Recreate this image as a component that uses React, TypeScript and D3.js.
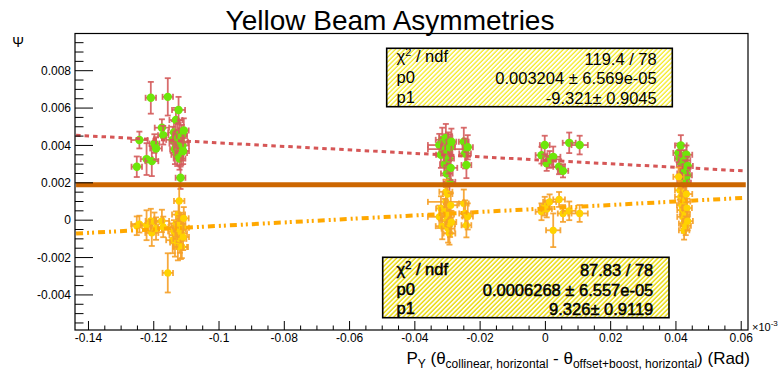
import React from 'react';
import * as d3 from 'd3';

const W = 778, H = 373;
const FL = 75, FR = 748, FT = 33.5, FB = 330;

const xTicks = [-0.14, -0.12, -0.1, -0.08, -0.06, -0.04, -0.02, 0, 0.02, 0.04, 0.06];
const xTickLabels = ["-0.14", "-0.12", "-0.1", "-0.08", "-0.06", "-0.04", "-0.02", "0", "0.02", "0.04", "0.06"];
const yTicks = [-0.004, -0.002, 0, 0.002, 0.004, 0.006, 0.008];
const yTickLabels = ["-0.004", "-0.002", "0", "0.002", "0.004", "0.006", "0.008"];

// shared x positions (axis units x10^-3 rad) and x errors
const xs = [
  -0.1252, -0.1244, -0.1222, -0.1209, -0.1206, -0.1198, -0.1193, -0.1175, -0.1171, -0.1157,
  -0.1142, -0.1138, -0.1135, -0.1132, -0.1130, -0.1128, -0.1126, -0.1124, -0.1122, -0.1121,
  -0.1120, -0.1118, -0.1117, -0.1116, -0.1114, -0.1112, -0.1110, -0.1108,
  -0.0325, -0.0320, -0.0316, -0.0305, -0.0308, -0.0305, -0.0302, -0.0300, -0.0298, -0.0296,
  -0.0294, -0.0292, -0.0290, -0.0288, -0.0250, -0.0246, -0.0242, -0.0238,
  -0.0012, -0.0002, 0.0004, 0.0013, 0.0024, 0.0042, 0.0054, 0.0073, 0.0105,
  0.0408, 0.0412, 0.0415, 0.0418, 0.0420, 0.0422, 0.0424, 0.0425, 0.0426, 0.0428, 0.0430, 0.0432, 0.0434, 0.0436,
];
const exs = [
  0.0016, 0.0025, 0.0018, 0.0016, 0.0020, 0.0015, 0.0018, 0.0022, 0.0016, 0.0016,
  0.0020, 0.0018, 0.0015, 0.0020, 0.0022, 0.0018, 0.0015, 0.0020, 0.0016, 0.0018,
  0.0020, 0.0015, 0.0022, 0.0018, 0.0016, 0.0020, 0.0018, 0.0015,
  0.0035, 0.0015, 0.0020, 0.0055, 0.0015, 0.0020, 0.0018, 0.0015, 0.0020, 0.0016,
  0.0018, 0.0015, 0.0020, 0.0015, 0.0015, 0.0018, 0.0015, 0.0016,
  0.0018, 0.0015, 0.0016, 0.0020, 0.0022, 0.0018, 0.0016, 0.0020, 0.0025,
  0.0016, 0.0015, 0.0018, 0.0015, 0.0016, 0.0018, 0.0015, 0.0016, 0.0018, 0.0015, 0.0016, 0.0018, 0.0015, 0.0016,
];
// upper series (green markers, red errors)
const upperY = [
  0.00286, 0.00429, 0.00327, 0.00655, 0.00316, 0.00410, 0.00384, 0.00495, 0.00455, 0.00660,
  0.00430, 0.00470, 0.00380, 0.00536, 0.00410, 0.00350, 0.00440, 0.00590, 0.00390, 0.00330,
  0.00460, 0.00227, 0.00420, 0.00360, 0.00450, 0.00400, 0.00370, 0.00480,
  0.00402, 0.00350, 0.00430, 0.00380, 0.00300, 0.00440, 0.00250, 0.00360, 0.00410, 0.00330,
  0.00205, 0.00390, 0.00280, 0.00420, 0.00420, 0.00357, 0.00295, 0.00390,
  0.00348, 0.00402, 0.00304, 0.00325, 0.00339, 0.00286, 0.00264, 0.00414, 0.00402,
  0.00360, 0.00330, 0.00400, 0.00300, 0.00250, 0.00214, 0.00280, 0.00230, 0.00320, 0.00270, 0.00200, 0.00350, 0.00240, 0.00290,
];
const upperEY = [
  0.00055, 0.00045, 0.00085, 0.00085, 0.00080, 0.00050, 0.00060, 0.00045, 0.00050, 0.00100,
  0.00070, 0.00060, 0.00080, 0.00065, 0.00070, 0.00060, 0.00075, 0.00070, 0.00065, 0.00060,
  0.00075, 0.00060, 0.00070, 0.00065, 0.00060, 0.00080, 0.00070, 0.00065,
  0.00060, 0.00070, 0.00065, 0.00080, 0.00060, 0.00075, 0.00070, 0.00065, 0.00060, 0.00080,
  0.00060, 0.00070, 0.00065, 0.00070, 0.00075, 0.00080, 0.00070, 0.00065,
  0.00045, 0.00050, 0.00040, 0.00045, 0.00055, 0.00040, 0.00035, 0.00055, 0.00050,
  0.00050, 0.00045, 0.00055, 0.00050, 0.00045, 0.00040, 0.00050, 0.00045, 0.00055, 0.00050, 0.00045, 0.00050, 0.00045, 0.00050,
];
// lower series (yellow markers, orange errors)
const lowerY = [
  -0.00030, -0.00021, -0.00027, -0.00004, -0.00068, -0.00009, -0.00045, -0.00004, -0.00036, -0.00282,
  -0.00107, -0.00060, -0.00120, -0.00018, -0.00080, -0.00030, -0.00140, 0.00030, 0.00103, -0.00050,
  -0.00100, -0.00020, -0.00143, -0.00070, -0.00143, -0.00040, -0.00090, 0.00010,
  0.00018, 0.00063, -0.00032, 0.00098, 0.00054, 0.00152, 0.00000, 0.00140, -0.00045, 0.00030,
  -0.00071, -0.00020, 0.00080, -0.00010, 0.00089, 0.00036, -0.00027, 0.00020,
  0.00045, 0.00075, 0.00060, 0.00098, -0.00054, 0.00111, 0.00036, 0.00050, 0.00036,
  0.00232, 0.00160, 0.00125, 0.00080, 0.00054, 0.00018, -0.00018, -0.00054, 0.00100, 0.00030, -0.00030, 0.00140, 0.00065, -0.00005,
];
const lowerEY = [
  0.00050, 0.00045, 0.00080, 0.00065, 0.00070, 0.00050, 0.00060, 0.00060, 0.00055, 0.00105,
  0.00070, 0.00060, 0.00075, 0.00065, 0.00070, 0.00060, 0.00075, 0.00070, 0.00080, 0.00060,
  0.00075, 0.00060, 0.00065, 0.00065, 0.00060, 0.00070, 0.00070, 0.00060,
  0.00060, 0.00065, 0.00070, 0.00080, 0.00060, 0.00065, 0.00070, 0.00060, 0.00075, 0.00065,
  0.00060, 0.00070, 0.00065, 0.00060, 0.00075, 0.00070, 0.00065, 0.00070,
  0.00045, 0.00050, 0.00045, 0.00040, 0.00090, 0.00040, 0.00045, 0.00050, 0.00045,
  0.00050, 0.00050, 0.00045, 0.00050, 0.00045, 0.00050, 0.00050, 0.00050, 0.00045, 0.00050, 0.00050, 0.00045, 0.00050, 0.00050,
];

const upperFit = { chi: "119.4 / 78", p0: 0.003204, p0s: "0.003204 \u00b1 6.569e-05", p1: -9.321, p1s: "-9.321\u00b1 0.9045" };
const lowerFit = { chi: "87.83 / 78", p0: 0.0006268, p0s: "0.0006268 \u00b1 6.557e-05", p1: 9.326, p1s: "9.326\u00b1 0.9119" };
const refLineY = 0.0019;
const fitRange = [-0.1438, 0.0614];

const FONT = "'Liberation Sans', Arial, Helvetica, sans-serif";

const x = d3.scaleLinear().domain([-0.14413, 0.06208]).range([FL, FR]);
const y = d3.scaleLinear().domain([-0.005877, 0.009991]).range([FB, FT]);

function Series({ ys, eys, errColor, fill, r, cap }: any) {
  return (
    <g>
      {xs.map((xv, i) => {
        const cx = x(xv), cy = y(ys[i]);
        const x1 = x(xv - exs[i]), x2 = x(xv + exs[i]);
        const y1 = y(ys[i] + eys[i]), y2 = y(ys[i] - eys[i]);
        return (
          <g key={i}>
            <g stroke={errColor} strokeWidth={1.8} strokeOpacity={0.9}>
              <line x1={x1} x2={x2} y1={cy} y2={cy} />
              <line x1={cx} x2={cx} y1={y1} y2={y2} />
              <line x1={x1} x2={x1} y1={cy - cap} y2={cy + cap} />
              <line x1={x2} x2={x2} y1={cy - cap} y2={cy + cap} />
              <line x1={cx - cap} x2={cx + cap} y1={y1} y2={y1} />
              <line x1={cx - cap} x2={cx + cap} y1={y2} y2={y2} />
            </g>
            <circle cx={cx} cy={cy} r={r} fill={fill} />
          </g>
        );
      })}
    </g>
  );
}

function FitLine({ p0, p1, color, width, dash }: any) {
  const pts = fitRange.map((v) => [x(v), y(p0 + p1 * v * 1e-3)] as [number, number]);
  const line = d3.line();
  return <path d={line(pts) || ""} stroke={color} strokeWidth={width} strokeDasharray={dash} fill="none" />;
}

function StatBox({ x0, y0, w, h, fit, pat, leftBase, rightBase, rightX, bold }: any) {
  const st = bold ? { stroke: "#000", strokeWidth: 0.5 } : {};
  return (
    <g fontFamily={FONT} fontSize={16.5}>
      <rect x={x0} y={y0} width={w} height={h} fill="#fff" />
      <rect x={x0} y={y0} width={w} height={h} fill={`url(#${pat})`} stroke="#000" strokeWidth={1.6} />
      <text x={396.5} y={leftBase[0]} {...st}>
        <tspan>{"\u03c7"}</tspan>
        <tspan fontSize={11} dy={-6}>2</tspan>
        <tspan dy={6}>{" / ndf"}</tspan>
      </text>
      <text x={396.5} y={leftBase[1]} {...st}>p0</text>
      <text x={396.5} y={leftBase[2]} {...st}>p1</text>
      <text x={rightX} y={rightBase[0]} textAnchor="end" {...st}>{fit.chi}</text>
      <text x={rightX} y={rightBase[1]} textAnchor="end" {...st}>{fit.p0s}</text>
      <text x={rightX} y={rightBase[2]} textAnchor="end" {...st}>{fit.p1s}</text>
    </g>
  );
}

export default function App() {
  const xMinor: number[] = [];
  for (let i = -29; i <= 12; i++) {
    const v = i * 0.005;
    if (v >= -0.14413 && v <= 0.06208 && i % 4 !== 0) xMinor.push(v);
  }
  const yMinor: number[] = [];
  for (let i = -12; i <= 20; i++) {
    const v = i * 0.0005;
    if (v >= -0.005877 && v <= 0.009991 && i % 4 !== 0) yMinor.push(v);
  }
  return (
    <svg width={W} height={H} style={{ position: "absolute", left: 0, top: 0, background: "#fff" }}>
      <defs>
        <pattern id="hatch1" patternUnits="userSpaceOnUse" width={3.3} height={3.3} patternTransform="rotate(45)">
          <line x1={1} y1={0} x2={1} y2={3.3} stroke="#f2e600" strokeWidth={1.1} />
        </pattern>
        <pattern id="hatch2" patternUnits="userSpaceOnUse" width={3.3} height={3.3} patternTransform="rotate(45)">
          <line x1={1} y1={0} x2={1} y2={3.3} stroke="#e8d800" strokeWidth={1.4} />
        </pattern>
      </defs>
      <rect x={0} y={0} width={W} height={H} fill="#fff" />

      {/* data */}
      <Series ys={upperY} eys={upperEY} errColor="#d45c5c" fill="#6ee60a" r={4.2} cap={3} />
      <FitLine p0={upperFit.p0} p1={upperFit.p1} color="#d65656" width={3} dash="4.5 4" />
      <Series ys={lowerY} eys={lowerEY} errColor="#f5a028" fill="#ffd200" r={3.6} cap={3} />
      <FitLine p0={lowerFit.p0} p1={lowerFit.p1} color="#ffa800" width={4} dash="7 4 2 3 2 4" />
      <line x1={x(fitRange[0])} x2={x(fitRange[1])} y1={y(refLineY)} y2={y(refLineY)} stroke="#cc6600" strokeWidth={5} />

      {/* frame */}
      <rect x={FL} y={FT} width={FR - FL} height={FB - FT} fill="none" stroke="#000" strokeWidth={1.2} />

      {/* axes ticks */}
      <g stroke="#000" strokeWidth={1}>
        {xTicks.map((v) => <line key={"xt" + v} x1={x(v)} x2={x(v)} y1={FB} y2={FB - 9} />)}
        {xMinor.map((v) => <line key={"xm" + v} x1={x(v)} x2={x(v)} y1={FB} y2={FB - 4.5} />)}
        {yTicks.map((v) => <line key={"yt" + v} x1={FL} x2={FL + 18} y1={y(v)} y2={y(v)} />)}
        {yMinor.map((v) => <line key={"ym" + v} x1={FL} x2={FL + 8.5} y1={y(v)} y2={y(v)} />)}
      </g>
      <g fontFamily={FONT} fontSize={12} fill="#000">
        {xTicks.map((v, i) => (
          <text key={"xl" + v} x={x(v)} y={342} textAnchor="middle">{xTickLabels[i]}</text>
        ))}
        {yTicks.map((v, i) => (
          <text key={"yl" + v} x={71} y={y(v) + 4.3} textAnchor="end">{yTickLabels[i]}</text>
        ))}
        <text x={752} y={331} fontSize={11}>
          <tspan>{"\u00d710"}</tspan>
          <tspan fontSize={8} dy={-5}>-3</tspan>
        </text>
      </g>

      {/* titles */}
      <text x={390} y={30} textAnchor="middle" fontFamily={FONT} fontSize={28}>Yellow Beam Asymmetries</text>
      <text x={18} y={47} textAnchor="middle" fontFamily={FONT} fontSize={14}>{"\u03a8"}</text>
      <text x={750} y={364} textAnchor="end" fontFamily={FONT} fontSize={17}>
        <tspan>P</tspan>
        <tspan fontSize={12} dy={4}>Y</tspan>
        <tspan dy={-4}>{" (\u03b8"}</tspan>
        <tspan fontSize={12} dy={4}>collinear, horizontal</tspan>
        <tspan dy={-4}>{" - \u03b8"}</tspan>
        <tspan fontSize={12} dy={4}>offset+boost, horizontal</tspan>
        <tspan dy={-4}>{") (Rad)"}</tspan>
      </text>

      {/* stat boxes */}
      <StatBox x0={386.7} y0={48.3} w={285.6} h={58.4} fit={upperFit} pat="hatch1"
        leftBase={[62, 83.3, 103.3]} rightBase={[64.5, 84.3, 104]} rightX={656.7} bold={false} />
      <StatBox x0={382.7} y0={257.3} w={286.3} h={60.4} fit={lowerFit} pat="hatch2"
        leftBase={[275, 295, 314.3]} rightBase={[276, 295.7, 315]} rightX={653.3} bold={true} />
    </svg>
  );
}
